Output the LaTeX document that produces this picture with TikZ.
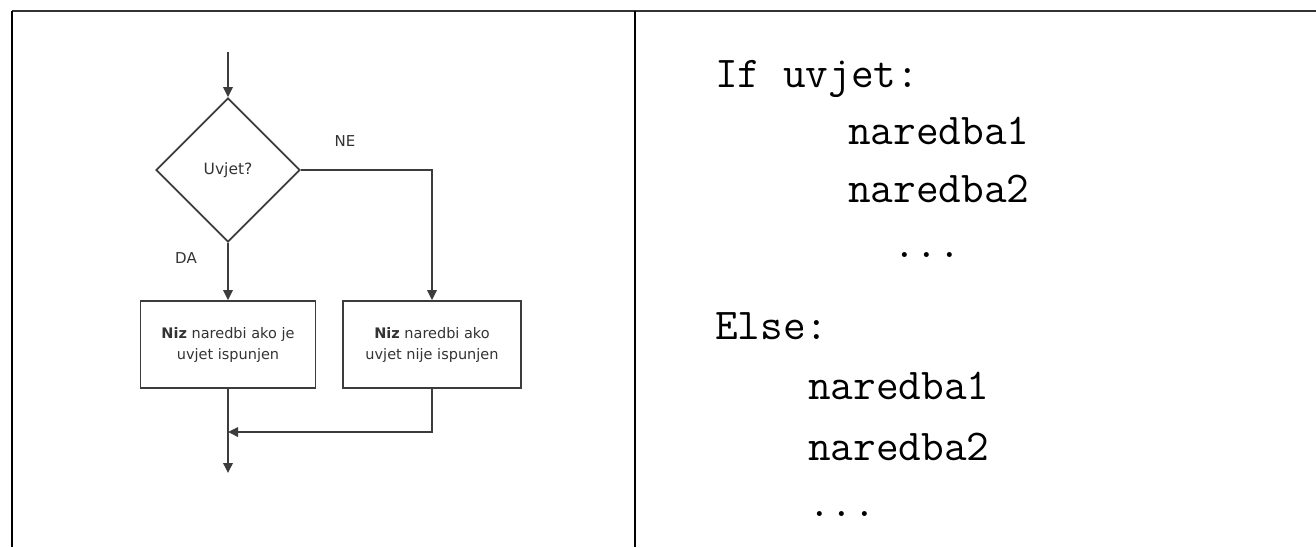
\documentclass[tikz,border=0pt]{standalone}
\usepackage{fontspec}
\newfontfamily\flowfont{DejaVu Sans}
\usetikzlibrary{arrows.meta,shapes.geometric}
\definecolor{linegray}{HTML}{3C3C3C}
\definecolor{textgray}{HTML}{333333}
\tikzset{
  flowline/.style={draw=linegray, line width=1.8pt},
  arr/.style={flowline, -{Triangle[length=10pt,width=9.5pt]}},
  decision/.style={diamond, flowline, minimum width=144pt, minimum height=144pt, inner sep=0pt, aspect=1,
    font=\flowfont\fontsize{15.5}{20}\selectfont, text=textgray},
  procbox/.style={rectangle, flowline, inner sep=0pt, minimum height=87pt, align=center,
    font=\flowfont\fontsize{14.5}{21}\selectfont, text=textgray},
  lbl/.style={font=\flowfont\fontsize{15}{16}\selectfont, text=textgray, inner sep=0pt},
  code/.style={anchor=base west, inner sep=0pt, font=\ttfamily\fontsize{44}{50}\selectfont},
  rule/.style={draw=black, line width=2pt}
}
\begin{document}
\begin{tikzpicture}[x=1pt,y=-1pt]
\useasboundingbox (0,0) rectangle (1316,547);
% table lines
\draw[rule, draw=black!80] (12,11) -- (1316,11);
\draw[rule] (12,11) -- (12,547);
\draw[rule] (635,11) -- (635,547);
% flowchart
\coordinate (start) at (228,52);
\node[decision] (dec) at (228,170) {Uvjet?};
\node[procbox, minimum width=175pt] (box1) at (228,344.5) {\textbf{Niz} naredbi ako je\\uvjet ispunjen};
\node[procbox, minimum width=178pt] (box2) at (432,344.5) {\textbf{Niz} naredbi ako\\uvjet nije ispunjen};
\node[lbl] (ne) at (345,141) {NE};
\node[lbl] (da) at (186,258) {DA};
\coordinate (merge) at (228,432);
\coordinate (end) at (228,473);
\draw[arr] (start) -- (dec.north);
\draw[arr] (dec.south) -- (box1.north);
\draw[arr] (dec.east) -| (box2.north);
\draw[arr] (box2.south) |- (merge);
\draw[arr] (box1.south) -- (end);
% code
\node[code] (l1) at (715,87) {If uvjet:};
\node[code] (l2) at (848,144) {naredba1};
\node[code] (l3) at (848,202) {naredba2};
\node[code] (l4) at (893,257) {...};
\node[code] (l5) at (715,339) {Else:};
\node[code] (l6) at (808,399) {naredba1};
\node[code] (l7) at (808,460) {naredba2};
\node[code] (l8) at (808,516) {...};
\end{tikzpicture}
\end{document}
